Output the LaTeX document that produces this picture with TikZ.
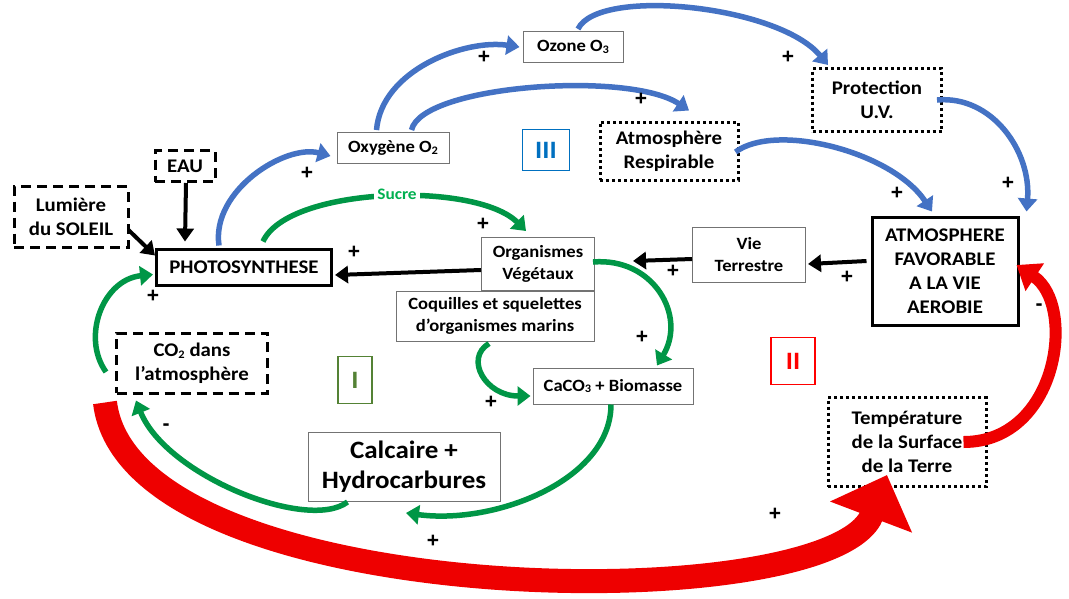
\documentclass[tikz,border=0pt]{standalone}
\usepackage{fontspec}
\setmainfont{Carlito}[FakeStretch=1.08]
\newfontfamily\signfont{Liberation Sans}
\usetikzlibrary{arrows.meta,calc}
\definecolor{oblue}{RGB}{68,114,196}
\definecolor{ogreen}{RGB}{0,150,70}
\definecolor{ored}{RGB}{238,0,0}
\definecolor{sgreen}{RGB}{0,176,80}
\definecolor{lgreen}{RGB}{84,130,53}
\definecolor{bblue}{RGB}{0,112,192}
\newcommand\fthin{\fontsize{17.2}{22}\selectfont\bfseries}
\newcommand\fmain{\fontsize{19.3}{24}\selectfont\bfseries}
\newcommand\fbig{\fontsize{25}{30}\selectfont\bfseries}
\newcommand\subs[1]{\raisebox{-0.2ex}{\fontsize{11.5}{11.5}\selectfont #1}}
\begin{document}
\begin{tikzpicture}[x=1pt,y=-1pt,
  base/.style={align=center, inner sep=0pt, fill=white},
  thinbox/.style={base, font=\fthin, draw=black!55, line width=1pt},
  thickbox/.style={base, font=\fmain, draw=black, line width=3pt},
  dashbox/.style={base, font=\fmain, draw=black, line width=3pt, dash pattern=on 10pt off 6pt},
  dotbox/.style={base, font=\fmain, draw=black, line width=3pt, dash pattern=on 3pt off 3pt},
  roman/.style={draw=#1, text=#1, line width=1.5pt, inner sep=0pt, fill=white, font=\fontsize{25}{25}\selectfont\bfseries},
  sign/.style={font=\signfont\fontsize{21}{21}\selectfont\bfseries, inner sep=0pt},
  blarrow/.style={draw=oblue, line width=5.5pt, -{Triangle[length=13pt,width=19pt]}},
  grarrow/.style={draw=ogreen, line width=5.5pt, -{Triangle[length=13pt,width=19pt]}},
  karrow/.style={draw=black, line width=4pt, -{Triangle[length=13pt,width=17pt]}},
]
\useasboundingbox[fill=white] (0,0) rectangle (1069,598);

% boxes
\node[dashbox, minimum width=114pt, minimum height=61pt] (sun) at (71,217) {Lumière\\du SOLEIL};
\node[dashbox, minimum width=60pt, minimum height=31pt] (eau) at (185,166) {EAU};
\node[thickbox, minimum width=175pt, minimum height=36pt] (photo) at (244,267) {PHOTOSYNTHESE};
\node[thinbox, minimum width=112pt, minimum height=31pt] (oxy) at (393,148) {Oxygène O\subs{2}};
\node[thinbox, minimum width=100pt, minimum height=31pt] (ozone) at (573,47) {Ozone O\subs{3}};
\node[dotbox, minimum width=138pt, minimum height=58pt] (atmr) at (669,151) {Atmosphère\\Respirable};
\node[dotbox, minimum width=129pt, minimum height=63pt] (prot) at (877,100) {Protection\\U.V.};
\node[thickbox, minimum width=146pt, minimum height=108pt] (atmf) at (945,271) {ATMOSPHERE\\FAVORABLE\\A LA VIE\\AEROBIE};
\node[thinbox, minimum width=113pt, minimum height=55pt] (vie) at (749,255) {Vie\\Terrestre};
\node[thinbox, minimum width=113pt, minimum height=53pt] (orgv) at (538,264) {Organismes\\Végétaux};
\node[thinbox, minimum width=198pt, minimum height=50pt] (coq) at (495,316) {Coquilles et squelettes\\d’organismes marins};
\node[thinbox, minimum width=160pt, minimum height=36pt] (caco) at (613,386) {CaCO\subs{3} + Biomasse};
\node[dashbox, minimum width=151pt, minimum height=60pt] (co2) at (192,363) {CO\subs{2} dans\\l’atmosphère};
\node[thinbox, font=\fbig, minimum width=192pt, minimum height=69pt] (calc) at (404,467) {Calcaire +\\Hydrocarbures};
\node[dotbox, minimum width=158pt, minimum height=89pt] (temp) at (907,442) {Température\\de la Surface\\de la Terre};
\node[roman=lgreen, minimum width=34pt, minimum height=47pt] (r1) at (355,380) {I};
\node[roman=red, minimum width=44pt, minimum height=47pt] (r2) at (793,361) {II};
\node[roman=bblue, minimum width=47pt, minimum height=41pt] (r3) at (546,150) {III};

% black arrows
\draw[karrow] ($(sun.south east)+(-1,-19)$) -- ($(photo.north west)+(0,8)$);
\draw[karrow] (eau.south -| 186,0) -- ($(photo.north west)+(30,-6)$);
\draw[karrow] ($(orgv.west)+(0,6)$) -- ($(photo.east)+(2,8)$);
\draw[karrow] ($(vie.west)+(0,4)$) -- ($(orgv.east)+(38,-3)$);
\draw[karrow] ($(atmf.west)+(-4,-10)$) -- ($(vie.east)+(2,9)$);

% blue arrows
\draw[blarrow] ($(photo.north west)+(64,-2)$) .. controls +(-8,-55) and +(-45,-12) .. ($(oxy.west)+(-6,8)$);
\draw[blarrow] ($(oxy.north west)+(40,-2)$) .. controls +(5,-60) and +(-55,-8) .. ($(ozone.west)+(-3,0)$);
\draw[blarrow] ($(oxy.north west)+(75,-2)$) .. controls +(10,-45) and +(-60,-40) .. ($(atmr.north)+(20,-10)$);
\draw[blarrow] ($(ozone.north)+(5,-2)$) .. controls +(20,-42) and +(-50,-60) .. ($(prot.north west)+(17,-2)$);
\draw[blarrow] ($(atmr.east)+(-4,1)$) .. controls +(40,-30) and +(-40,-60) .. ($(atmf.north)+(-13,-4)$);
\draw[blarrow] ($(prot.east)+(-6,0)$) .. controls +(55,-5) and +(5,-60) .. ($(atmf.north east)+(7,-4)$);

% green arrows
\draw[grarrow] ($(photo.north east)+(-70,-6)$) .. controls +(25,-55) and +(-50,-50) .. ($(orgv.north)+(-12,-6)$);
\draw[grarrow] ($(co2.west)+(-9,9)$) .. controls +(-25,-35) and +(-50,5) .. ($(photo.south west)+(-2,-12)$);
\draw[grarrow] ($(orgv.east)+(-2,-2)$) .. controls +(60,-5) and +(30,-50) .. ($(caco.north)+(44,-2)$);
\draw[grarrow] ($(coq.south)+(-6,2)$) .. controls +(-25,15) and +(-45,0) .. ($(caco.west)+(-2,10)$);
\draw[grarrow] ($(caco.south)+(-2,0)$) .. controls +(0,75) and +(90,12) .. ($(calc.south)+(2,11)$);
\draw[grarrow] ($(calc.south west)+(40,0)$) .. controls +(-40,30) and +(30,75) .. ($(co2.south west)+(21,6)$);

% red arrows
\draw[draw=ored, line width=24pt, -{Triangle[length=45pt,width=85pt]}]
  ($(co2.south west)+(-10,8)$) .. controls +(25,210) and +(-55,145) .. ($(temp.south)+(-20,-13)$);
\draw[draw=ored, line width=12pt, -{Triangle[length=22pt,width=32pt]}]
  ($(temp.east)+(-24,0)$) .. controls +(95,0) and +(60,40) .. ($(atmf.east)+(-3,-6)$);

% label on green arrow
\node[font=\fontsize{16}{16}\selectfont\bfseries, text=sgreen, fill=white, inner sep=3pt] (sucre) at (397,194) {Sucre};

% signs
\node[sign] (p1) at (484,57) {+};
\node[sign] (p2) at (641,99) {+};
\node[sign] (p3) at (788,57) {+};
\node[sign] (p4) at (307,173) {+};
\node[sign] (p5) at (483,224) {+};
\node[sign] (p6) at (897,193) {+};
\node[sign] (p7) at (1008,183) {+};
\node[sign] (p8) at (153,296) {+};
\node[sign] (p9) at (354,252) {+};
\node[sign] (p10) at (673,271) {+};
\node[sign] (p11) at (847,277) {+};
\node[sign] (p12) at (642,337) {+};
\node[sign] (p13) at (491,402) {+};
\node[sign] (p14) at (433,541) {+};
\node[sign] (p15) at (775,514) {+};
\node[sign] (m1) at (166,427) {-};
\node[sign] (m2) at (1039,307) {-};
\end{tikzpicture}
\end{document}
